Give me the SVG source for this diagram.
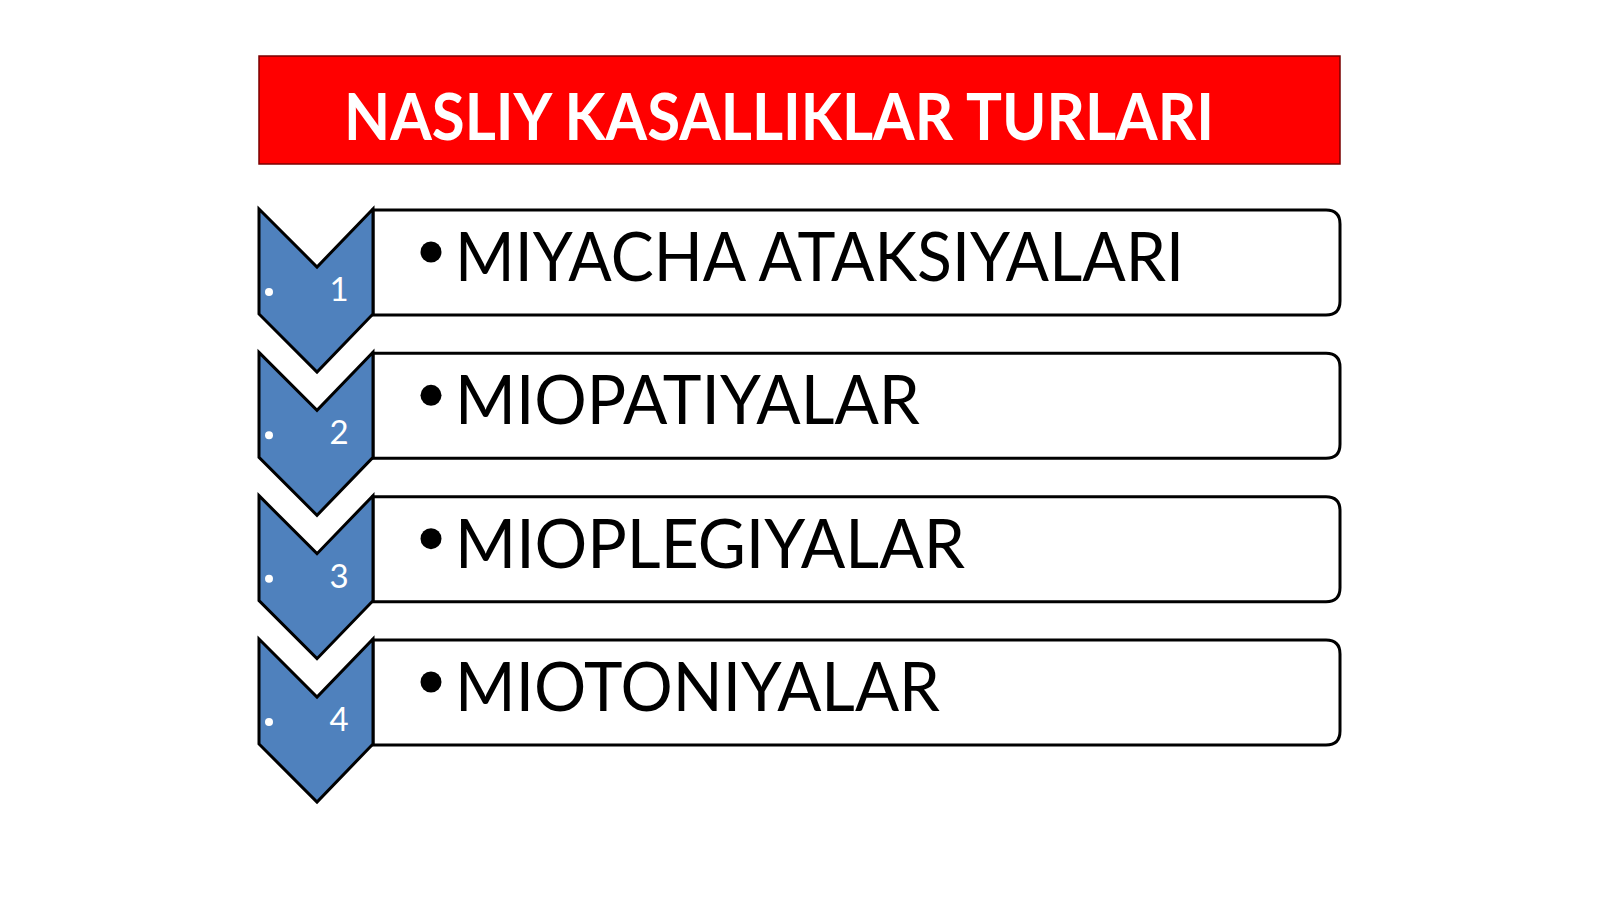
<svg xmlns="http://www.w3.org/2000/svg" width="1600" height="899" viewBox="0 0 1600 899">
<style>
.box{fill:#fff;stroke:#000;stroke-width:3}
.chev{fill:#4F81BD;stroke:#000;stroke-width:3;stroke-linejoin:miter}
.item{font-family:Lato,"Liberation Sans",sans-serif;font-size:68px;fill:#000}
.num{font-family:Lato,"Liberation Sans",sans-serif;font-size:33px;fill:#fff;text-anchor:middle}
.dot{fill:#fff}
.bul{fill:#000}
</style>
<rect width="1600" height="899" fill="#fff"/>
<g id="title">
<rect x="259" y="56" width="1081" height="108" fill="#FF0000" stroke="#7a0000" stroke-width="1.5"/>
<text x="344" y="140" textLength="870" lengthAdjust="spacingAndGlyphs" font-family="Lato,'Liberation Sans',sans-serif" font-weight="bold" font-size="65.5" fill="#fff">NASLIY KASALLIKLAR TURLARI</text>
</g>
<g id="connectors"></g>
<g id="item1" transform="translate(0,209)">
<path class="box" d="M373,1 H1326 Q1340,1 1340,15 V92 Q1340,106 1326,106 H373 Z"/>
<path class="chev" d="M259,0 L317,58 L373,0 L373,105 L317,163 L259,105 Z"/>
<circle class="dot" cx="269" cy="83" r="4"/>
<text class="num" x="339" y="92">1</text>
<circle class="bul" cx="431" cy="43" r="10.5"/>
<text class="item" x="455" y="72" textLength="729" lengthAdjust="spacingAndGlyphs">MIYACHA ATAKSIYALARI</text>
</g>
<g id="item2" transform="translate(0,352.33)">
<path class="box" d="M373,1 H1326 Q1340,1 1340,15 V92 Q1340,106 1326,106 H373 Z"/>
<path class="chev" d="M259,0 L317,58 L373,0 L373,105 L317,163 L259,105 Z"/>
<circle class="dot" cx="269" cy="83" r="4"/>
<text class="num" x="339" y="92">2</text>
<circle class="bul" cx="431" cy="43" r="10.5"/>
<text class="item" x="455" y="72" textLength="465" lengthAdjust="spacingAndGlyphs">MIOPATIYALAR</text>
</g>
<g id="item3" transform="translate(0,495.67)">
<path class="box" d="M373,1 H1326 Q1340,1 1340,15 V92 Q1340,106 1326,106 H373 Z"/>
<path class="chev" d="M259,0 L317,58 L373,0 L373,105 L317,163 L259,105 Z"/>
<circle class="dot" cx="269" cy="83" r="4"/>
<text class="num" x="339" y="92">3</text>
<circle class="bul" cx="431" cy="43" r="10.5"/>
<text class="item" x="455" y="72" textLength="510" lengthAdjust="spacingAndGlyphs">MIOPLEGIYALAR</text>
</g>
<g id="item4" transform="translate(0,639)">
<path class="box" d="M373,1 H1326 Q1340,1 1340,15 V92 Q1340,106 1326,106 H373 Z"/>
<path class="chev" d="M259,0 L317,58 L373,0 L373,105 L317,163 L259,105 Z"/>
<circle class="dot" cx="269" cy="83" r="4"/>
<text class="num" x="339" y="92">4</text>
<circle class="bul" cx="431" cy="43" r="10.5"/>
<text class="item" x="455" y="72" textLength="485" lengthAdjust="spacingAndGlyphs">MIOTONIYALAR</text>
</g>
</svg>
